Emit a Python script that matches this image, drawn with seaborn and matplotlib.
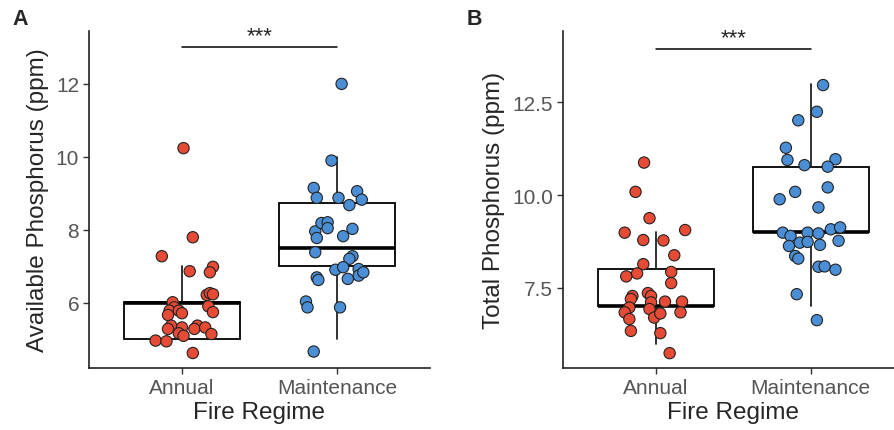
import pandas as pd
import seaborn as sns
import matplotlib
matplotlib.use("Agg")
import matplotlib.pyplot as plt
import matplotlib.ticker as tkr

# categories and colours
regimes = ["Annual", "Maintenance"]
palette = {"Annual": "#E64B35", "Maintenance": "#4A8FD6"}

# panel A: available phosphorus (jitter offset, value)
avail_annual_dx = [0.01, 0.07, -0.13, 0.05, 0.20, 0.18, 0.16, 0.18, 0.20, 0.17, 0.20,
                   -0.06, -0.05, -0.08, -0.02, 0.00, -0.09, -0.07, -0.09, 0.00, -0.02,
                   0.01, 0.10, 0.08, 0.15, 0.19, -0.17, -0.10, 0.07]
avail_annual = [10.24, 7.80, 7.28, 6.87, 6.99, 6.84, 6.22, 6.27, 6.24, 5.91, 5.75,
                6.02, 5.88, 5.79, 5.79, 5.72, 5.67, 5.38, 5.29, 5.33, 5.17,
                5.10, 5.38, 5.29, 5.33, 5.15, 4.97, 4.95, 4.63]
avail_maint_dx = [0.03, -0.035, -0.15, -0.13, 0.01, 0.13, 0.16, 0.08, -0.14, -0.10,
                  -0.06, -0.06, -0.13, 0.04, 0.10, -0.14, 0.10, 0.08, -0.01, 0.04,
                  0.14, 0.14, 0.17, 0.07, -0.13, -0.12, -0.20, -0.19, 0.02, -0.15]
avail_maint = [12.0, 9.90, 9.15, 8.88, 8.88, 9.06, 8.83, 8.68, 7.96, 8.19,
               8.21, 8.05, 7.78, 7.83, 8.03, 7.39, 7.28, 7.21, 6.91, 6.98,
               6.93, 6.75, 6.84, 6.66, 6.70, 6.63, 6.04, 5.88, 5.88, 4.67]

# panel B: total phosphorus
total_annual_dx = [-0.075, -0.13, -0.04, -0.20, 0.19, -0.08, 0.05, 0.12, -0.08, -0.12,
                   -0.19, 0.10, 0.10, -0.15, -0.16, -0.05, -0.03, -0.03, 0.06, 0.17,
                   0.16, -0.17, -0.20, -0.17, -0.04, -0.01, 0.03, -0.16, 0.03, 0.09]
total_annual = [10.88, 10.09, 9.38, 8.99, 9.06, 8.79, 8.78, 8.38, 8.14, 7.89,
                7.81, 7.93, 7.63, 7.28, 7.20, 7.36, 7.28, 7.11, 7.13, 7.13,
                6.84, 6.97, 6.84, 6.66, 6.93, 6.70, 6.81, 6.34, 6.28, 5.74]
total_maint_dx = [0.08, 0.04, -0.08, -0.16, -0.15, 0.16, -0.04, 0.11, -0.10, 0.11,
                  -0.20, 0.05, -0.18, -0.13, -0.02, 0.05, 0.13, 0.19, 0.18, -0.14,
                  -0.07, -0.02, 0.06, -0.10, -0.08, 0.05, 0.09, 0.16, -0.09, 0.04]
total_maint = [12.97, 12.25, 12.02, 11.28, 10.95, 10.97, 10.81, 10.77, 10.09, 10.21,
               9.89, 9.67, 8.99, 8.90, 8.99, 8.97, 9.08, 9.13, 8.77, 8.63,
               8.72, 8.74, 8.66, 8.36, 8.29, 8.07, 8.08, 7.99, 7.33, 6.63]

# box statistics: whisker low, Q1, median, Q3, whisker high
avail_box = {"Annual": [5, 5, 6, 6.02, 7], "Maintenance": [5, 7, 7.5, 8.75, 10]}
total_box = {"Annual": [6, 7, 7, 8, 9], "Maintenance": [7, 9, 9, 10.75, 13]}

panels = [
    ("A", "Available Phosphorus (ppm)", avail_annual_dx, avail_annual, avail_maint_dx, avail_maint,
     avail_box, (4.22, 13.45), [6, 8, 10, 12], "%d", 13.0),
    ("B", "Total Phosphorus (ppm)", total_annual_dx, total_annual, total_maint_dx, total_maint,
     total_box, (5.34, 14.43), [7.5, 10.0, 12.5], "%.1f", 13.95),
]

sns.set_style("white")
plt.rcParams["font.family"] = ["Liberation Sans", "DejaVu Sans"]

fig = plt.figure(figsize=(8.95, 4.31), dpi=100)
ax_pos = [[0.0994, 0.1439, 0.381, 0.782], [0.6287, 0.1439, 0.381, 0.782]]

for (letter, ylab, a_dx, a_y, m_dx, m_y, box, ylim, yticks, fmt, sig_y), pos in zip(panels, ax_pos):
    ax = fig.add_axes(pos)

    # boxes from stored statistics
    stats = []
    for r in regimes:
        lo, q1, med, q3, hi = box[r]
        stats.append(dict(whislo=lo, q1=q1, med=med, q3=q3, whishi=hi, fliers=[], label=r))
    ax.bxp(stats, positions=[0, 1], widths=0.75, showfliers=False, showcaps=False,
           patch_artist=True,
           boxprops=dict(facecolor="white", edgecolor="black", linewidth=1.3),
           whiskerprops=dict(color="#222222", linewidth=1.3),
           medianprops=dict(color="black", linewidth=2.6), zorder=1)

    # jittered points
    df = pd.DataFrame({
        "regime": ["Annual"] * len(a_y) + ["Maintenance"] * len(m_y),
        "dx": a_dx + m_dx,
        "value": a_y + m_y,
    })
    df["x"] = df["regime"].map({r: i for i, r in enumerate(regimes)}) + df["dx"]
    sns.scatterplot(data=df, x="x", y="value", hue="regime", palette=palette, s=66,
                    edgecolor="#222222", linewidth=0.8, legend=False, ax=ax, zorder=3)

    # significance bar
    ax.plot([0, 1], [sig_y, sig_y], color="black", linewidth=1.1)
    ax.text(0.5, sig_y + 0.02, "***", ha="center", va="bottom", fontsize=16)

    ax.set_xlim(-0.6, 1.6)
    ax.set_ylim(*ylim)
    ax.set_xticks([0, 1])
    ax.set_xticklabels(regimes)
    ax.set_yticks(yticks)
    ax.yaxis.set_major_formatter(tkr.FormatStrFormatter(fmt))
    ax.tick_params(axis="both", labelsize=15, labelcolor="#555555", color="#333333",
                   length=4, width=1, direction="out", left=True, bottom=True, pad=3)
    ax.set_xlabel("Fire Regime", fontsize=17.5, labelpad=3)
    ax.set_ylabel(ylab, fontsize=17.5, labelpad=5)
    for side in ["top", "right"]:
        ax.spines[side].set_visible(False)
    for side in ["left", "bottom"]:
        ax.spines[side].set_color("#222222")
        ax.spines[side].set_linewidth(1.2)

    fig.text(pos[0] - 0.085 if letter == "A" else pos[0] - 0.107, 0.93, letter,
             fontsize=15.5, fontweight="bold", ha="left", va="bottom")

fig.savefig("out.png", dpi=100)
